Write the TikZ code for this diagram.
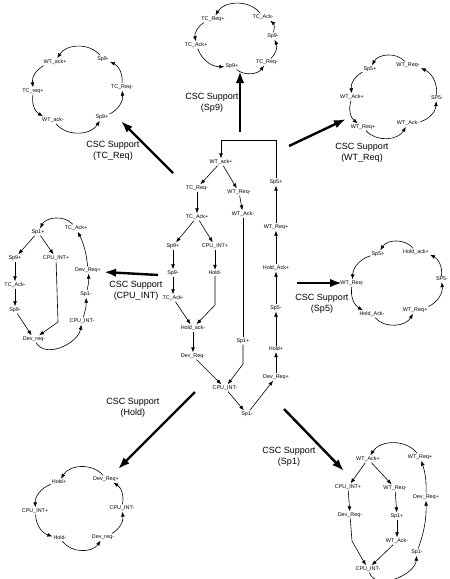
\documentclass[tikz,border=0pt]{standalone}
\usepackage{fontspec}
\setmainfont{Liberation Sans}
\usetikzlibrary{arrows.meta}

\begin{document}
\begin{tikzpicture}[x=1pt, y=-1pt,
    ev/.style={font=\fontsize{5.4}{6}\selectfont, inner sep=1pt},
    arc/.style={-{Latex[length=5pt,width=3.8pt]}, line width=0.6pt},
    plain/.style={line width=0.6pt},
    csc/.style={-{Latex[length=12pt,width=8.5pt]}, line width=2.4pt},
    lbl/.style={font=\fontsize{9}{11.5}\selectfont, align=center, inner sep=0pt}]
  \useasboundingbox (0,0) rectangle (450,579);

  % Central graph
  \foreach \n/\t/\x/\y in {m1/WT\_ack+/221/162, m2/TC\_Req-/197/188, m3/WT\_Req-/239/192,
      m4/WT\_Ack-/243/214, m5/TC\_Ack+/197/217, m6/Sp9+/173/246, m7/CPU\_INT+/215/246,
      m8/Sp9-/173/273, m9/Hold-/215/273, m10/TC\_Ack-/173/298, m11/Hold\_ack-/193/328,
      m12/Dev\_Req-/193/356, m13/CPU\_INT-/225/388, m14/Sp1+/243/341, m15/Sp1-/247/414,
      m16/Dev\_Req+/276/377, m17/Hold+/276/349, m18/Sp5-/276/308, m19/Hold\_Ack+/276/268,
      m20/WT\_Req+/276/227, m21/Sp5+/276/182}
    \node[ev] (\n) at (\x,\y) {\t};
  \foreach \i/\j in {1/2, 1/3, 2/5, 3/4, 5/6, 5/7, 6/8, 8/10, 10/11, 7/9, 11/12, 12/13,
      13/15, 15/16, 16/17, 17/18, 18/19, 19/20, 20/21}
    \draw[arc] (m\i) -- (m\j);
  \coordinate (mh) at (215,305);
  \coordinate (ms) at (243,364);
  \coordinate (mt) at (221,140);
  \draw[arc] (m9) -- (mh) -- (m11);
  \draw[plain] (m4) -- (m14);
  \draw[arc] (m14) -- (ms) -- (m13);
  \draw[arc] (m21) |- (mt) -- (m1);

  % CSC Support (Sp9)
  \foreach \n/\t/\x/\y in {a1/TC\_Req+/213/19, a2/TC\_Ack+/196/45, a3/Sp9+/232/66,
      a4/TC\_Req-/267/62, a5/Sp9-/273/36, a6/TC\_Ack-/263/17}
    \node[ev] (\n) at (\x,\y) {\t};
  \foreach \i/\j/\b in {6/1/55, 1/2/35, 2/3/35, 3/4/45, 4/5/35, 5/6/35}
    \draw[arc] (a\i) to[bend right=\b] (a\j);

  % CSC Support (TC_Req)
  \foreach \n/\t/\x/\y in {b1/WT\_ack+/55/62, b2/TC\_req+/33/91, b3/WT\_ack-/53/120,
      b4/Sp9+/102/117, b5/TC\_Req-/122/87, b6/Sp9-/103/59}
    \node[ev] (\n) at (\x,\y) {\t};
  \foreach \i/\j/\b in {6/1/55, 1/2/35, 2/3/35, 3/4/55, 4/5/35, 5/6/35}
    \draw[arc] (b\i) to[bend right=\b] (b\j);

  % CSC Support (WT_Req)
  \foreach \n/\t/\x/\y in {c1/WT\_Req-/408/65, c2/Sp5+/370/69, c3/WT\_Ack+/352/97,
      c4/WT\_Req+/363/127, c5/WT\_Ack-/408/123, c6/SP5-/437/98}
    \node[ev] (\n) at (\x,\y) {\t};
  \foreach \i/\j/\b in {1/2/55, 2/3/35, 3/4/35, 4/5/55, 5/6/35, 6/1/35}
    \draw[arc] (c\i) to[bend right=\b] (c\j);

  % CSC Support (Sp5)
  \foreach \n/\t/\x/\y in {d1/Hold\_ack+/416/252, d2/Sp5+/378/254, d3/WT\_Req-/352/283,
      d4/Hold\_Ack-/372/314, d5/WT\_Req+/415/310, d6/SP5-/442/279}
    \node[ev] (\n) at (\x,\y) {\t};
  \foreach \i/\j/\b in {1/2/55, 2/3/35, 3/4/35, 4/5/55, 5/6/35, 6/1/35}
    \draw[arc] (d\i) to[bend right=\b] (d\j);

  % CSC Support (CPU_INT)
  \foreach \n/\t/\x/\y in {e1/TC\_Ack+/76/228, e2/Sp1+/38/232, e3/Sp9+/15/258,
      e4/CPU\_INT+/56/258, e5/TC\_Ack-/15/285, e6/Sp9-/15/310, e7/Dev\_req-/34/339,
      e8/CPU\_INT-/82/321, e9/Sp1-/86/294, e10/Dev\_Req+/88/270}
    \node[ev] (\n) at (\x,\y) {\t};
  \draw[arc] (e1) to[bend right=55] (e2);
  \foreach \i/\j in {2/3, 2/4, 3/5, 5/6, 6/7}
    \draw[arc] (e\i) -- (e\j);
  \coordinate (ec) at (58,322);
  \draw[arc] (e4) -- (ec) -- (e7);
  \draw[arc] (e7) to[out=-60, in=-100] (e8);
  \foreach \i/\j in {8/9, 9/10, 10/1}
    \draw[arc] (e\i) to[bend right=10] (e\j);

  % CSC Support (Hold)
  \foreach \n/\t/\x/\y in {f1/Dev\_Req+/106/479, f2/Hold+/59/482, f3/CPU\_INT+/35/511,
      f4/Hold-/60/538, f5/Dev\_req-/103/537, f6/CPU\_INT-/122/508}
    \node[ev] (\n) at (\x,\y) {\t};
  \foreach \i/\j/\b in {1/2/55, 2/3/35, 3/4/35, 4/5/55, 5/6/35, 6/1/35}
    \draw[arc] (f\i) to[bend right=\b] (f\j);

  % CSC Support (Sp1)
  \foreach \n/\t/\x/\y in {g1/WT\_Req+/420/457, g2/WT\_Ack+/368/459, g3/CPU\_INT+/348/487,
      g4/WT\_Req-/395/488, g5/Dev\_Req-/350/515, g6/Sp1+/397/516, g7/WT\_Ack-/397/541,
      g8/CPU\_INT-/368/569, g9/Sp1-/417/552, g10/Dev\_Req+/426/497}
    \node[ev] (\n) at (\x,\y) {\t};
  \draw[arc] (g1) to[bend right=55] (g2);
  \foreach \i/\j in {2/3, 2/4, 3/5, 4/6, 6/7, 7/8}
    \draw[arc] (g\i) -- (g\j);
  \coordinate (gc) at (352,541);
  \draw[arc] (g5) -- (gc) -- (g8);
  \draw[arc] (g8) to[out=-70, in=-95] (g9);
  \foreach \i/\j in {9/10, 10/1}
    \draw[arc] (g\i) to[bend right=10] (g\j);

  % Thick arrows to the reduced graphs
  \foreach \n/\xa/\ya/\xb/\yb in {sp9/240/132/240/71, tcreq/173/173/121/121,
      wtreq/289/146/346/119, sp5/297/283/342/283, cpuint/158/275/104/272,
      hold/195/392/118/469, sp1/284/409/344/471} {
    \coordinate (\n a) at (\xa,\ya);
    \coordinate (\n b) at (\xb,\yb);
    \draw[csc] (\n a) -- (\n b);
  }

  % Labels
  \node[lbl] (lsp9) at (212,103) {CSC Support\\(Sp9)};
  \node[lbl] (ltcreq) at (113,151) {CSC Support\\(TC\_Req)};
  \node[lbl] (lwtreq) at (362,153) {CSC Support\\(WT\_Req)};
  \node[lbl] (lsp5) at (322,304) {CSC Support\\(Sp5)};
  \node[lbl] (lcpuint) at (136,291) {CSC Support\\(CPU\_INT)};
  \node[lbl] (lhold) at (133,408) {CSC Support\\(Hold)};
  \node[lbl] (lsp1) at (289,457) {CSC Support\\(Sp1)};
\end{tikzpicture}
\end{document}
